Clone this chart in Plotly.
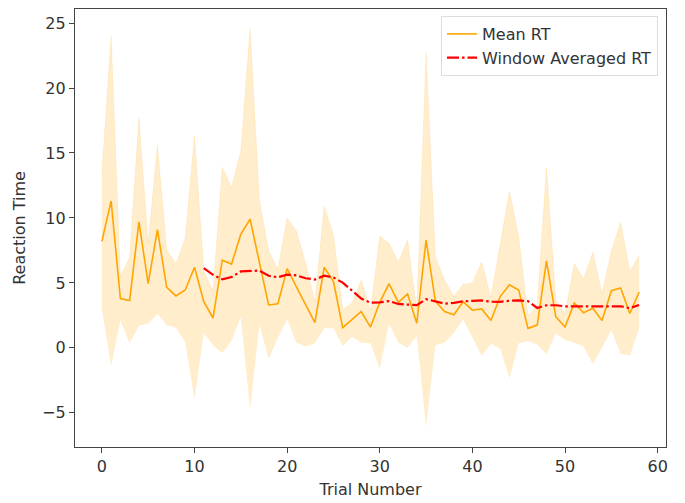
import plotly.graph_objects as go

trials = list(range(59))
mean_rt = [8.2, 11.3, 3.8, 3.65, 9.7, 4.95, 9.1, 4.65, 4.0, 4.45,
           6.2, 3.55, 2.3, 6.75, 6.45, 8.75, 9.9, 6.6, 3.3, 3.4,
           6.1, 4.7, 3.3, 1.95, 6.2, 5.1, 1.55, 2.15, 2.8, 1.6,
           3.5, 4.95, 3.5, 4.15, 1.9, 8.3, 3.6, 2.8, 2.55, 3.55,
           2.9, 3.0, 2.1, 3.95, 4.85, 4.45, 1.5, 1.75, 6.7, 2.4,
           1.6, 3.45, 2.7, 3.05, 2.1, 4.4, 4.6, 2.65, 4.3]
upper_rt = [13.4, 24.0, 5.5, 6.95, 17.7, 8.05, 15.6, 7.55, 6.45, 8.45,
            16.35, 5.95, 4.4, 13.9, 12.35, 15.15, 24.55, 11.4, 7.45, 6.05,
            10.0, 9.0, 6.5, 3.55, 10.9, 8.7, 2.95, 3.45, 5.2, 2.85,
            8.6, 8.05, 6.6, 8.3, 2.9, 22.7, 7.0, 5.2, 3.95, 4.9,
            5.0, 6.6, 3.9, 7.95, 12.05, 8.55, 2.5, 3.25, 13.9, 3.7,
            2.6, 6.5, 5.3, 7.35, 4.15, 7.45, 9.65, 5.9, 7.1]
lower_rt = [3.0, -1.4, 2.1, 0.35, 1.7, 1.85, 2.6, 1.75, 1.55, 0.45,
            -3.95, 1.15, 0.2, -0.4, 0.55, 2.35, -4.75, 1.8, -0.85, 0.75,
            2.2, 0.4, 0.1, 0.35, 1.5, 1.5, 0.15, 0.85, 0.4, 0.35,
            -1.6, 1.85, 0.4, 0.0, 0.9, -6.1, 0.2, 0.4, 1.15, 2.2,
            0.8, -0.6, 0.3, -0.05, -2.35, 0.35, 0.5, 0.25, -0.5, 1.1,
            0.6, 0.4, 0.1, -1.25, 0.05, 1.35, -0.45, -0.6, 1.5]
window_trials = list(range(11, 59))
window_rt = [6.13, 5.62, 5.27, 5.45, 5.88, 5.93, 5.95, 5.55, 5.43, 5.64,
             5.58, 5.36, 5.26, 5.55, 5.42, 5.02, 4.42, 3.8, 3.48, 3.5,
             3.6, 3.38, 3.33, 3.29, 3.75, 3.55, 3.4, 3.46, 3.58, 3.62,
             3.65, 3.55, 3.54, 3.63, 3.65, 3.6, 3.07, 3.28, 3.28, 3.2,
             3.2, 3.17, 3.18, 3.17, 3.2, 3.2, 3.06, 3.3]

x_ticks = [0, 10, 20, 30, 40, 50, 60]
y_ticks = [-5, 0, 5, 10, 15, 20, 25]

FONT = "DejaVu Sans"
FS = 16
fig = go.Figure()
fig.add_trace(go.Scatter(x=trials, y=lower_rt, mode="lines",
                         line=dict(width=0, color="rgba(255,165,0,0.2)"),
                         showlegend=False, hoverinfo="skip"))
fig.add_trace(go.Scatter(x=trials, y=upper_rt, mode="lines", fill="tonexty",
                         fillcolor="rgba(255,165,0,0.2)",
                         line=dict(width=0.6, color="rgba(255,165,0,0.2)"),
                         showlegend=False, hoverinfo="skip"))
fig.add_trace(go.Scatter(x=trials, y=mean_rt, mode="lines", name="Mean RT",
                         line=dict(color="#FFA500", width=1.6)))
fig.add_trace(go.Scatter(x=window_trials, y=window_rt, mode="lines",
                         name="Window Averaged RT",
                         line=dict(color="#FF0000", width=2.2, dash="12px,3px,2.5px,3px")))

axis_common = dict(showgrid=False, zeroline=False, showline=True, mirror=True,
                   linecolor="#444", linewidth=1.2, ticks="outside", ticklen=5,
                   tickcolor="#444", tickwidth=1.2,
                   tickfont=dict(family=FONT, size=FS, color="#333"))
fig.update_xaxes(range=[-2.9, 60.9], tickvals=x_ticks,
                 title=dict(text="Trial Number", font=dict(family=FONT, size=FS, color="#333"), standoff=8),
                 **axis_common)
fig.update_yaxes(range=[-7.63, 26.08], tickvals=y_ticks,
                 title=dict(text="Reaction Time", font=dict(family=FONT, size=FS, color="#333"), standoff=12),
                 **axis_common)
fig.update_layout(
    width=685, height=503,
    margin=dict(l=75, r=19, t=9, b=56, autoexpand=False),
    plot_bgcolor="white", paper_bgcolor="white",
    font=dict(family=FONT, size=FS, color="#333"),
    legend=dict(x=0.9865, y=0.984, xanchor="right", yanchor="top",
                traceorder="normal",
                bgcolor="rgba(255,255,255,0.8)", bordercolor="#DDDDDD", borderwidth=1,
                font=dict(family=FONT, size=FS, color="#333"),
                tracegroupgap=0, itemwidth=30),
)
fig.write_html("out.html")
